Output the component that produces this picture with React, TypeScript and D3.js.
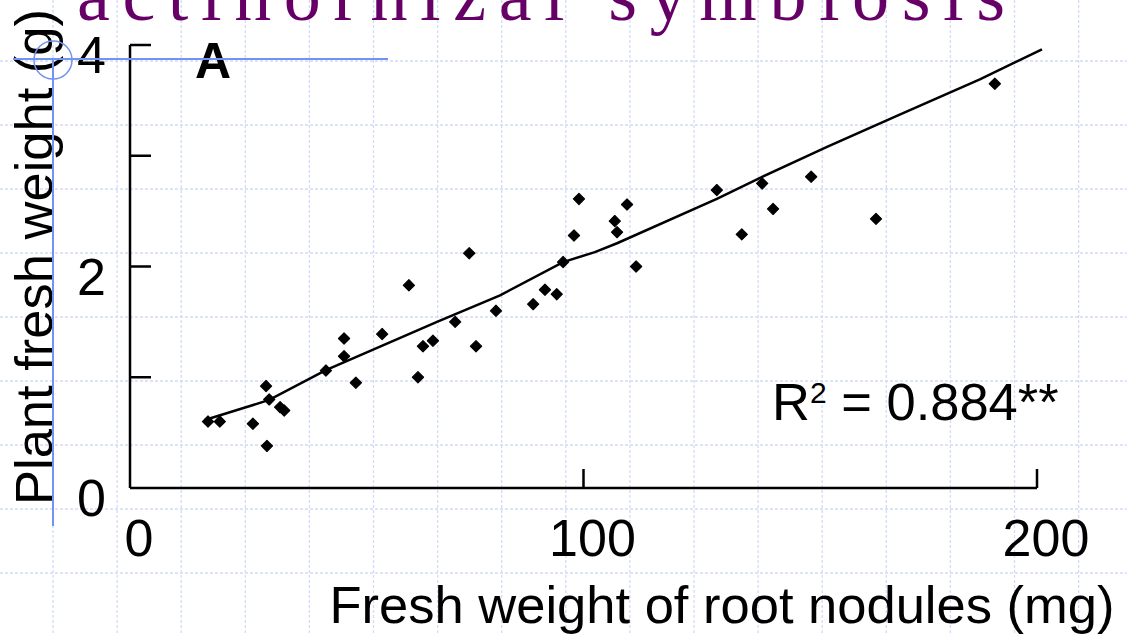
import React, { useEffect, useRef } from 'react';
import * as d3 from 'd3';

// nodule fresh weight (mg) vs plant fresh weight (g)
const noduleWeight = [17.2, 19.8, 27.1, 30.0, 30.2, 30.7, 33.1, 34.0, 43.2, 47.2, 47.2, 49.8, 55.6, 61.5, 63.5, 64.6, 66.8, 71.7, 74.8, 76.3, 80.7, 88.9, 91.5, 94.1, 95.5, 97.9, 99.0, 106.9, 107.4, 109.6, 111.6, 129.4, 134.9, 139.4, 141.8, 150.2, 164.5, 190.7];
const plantWeight = [0.60, 0.60, 0.58, 0.92, 0.38, 0.80, 0.73, 0.70, 1.06, 1.35, 1.19, 0.95, 1.39, 1.83, 1.00, 1.28, 1.33, 1.50, 2.12, 1.28, 1.60, 1.66, 1.79, 1.75, 2.04, 2.28, 2.61, 2.41, 2.31, 2.56, 2.00, 2.69, 2.29, 2.75, 2.52, 2.81, 2.43, 3.65];

// fitted line as drawn
const fitX = [16.5, 30.7, 43.2, 67.7, 81.6, 95.5, 102.5, 107.4, 129.4, 139.4, 153.7, 169.1, 187.4, 201.1];
const fitY = [0.614, 0.795, 1.065, 1.50, 1.74, 2.04, 2.13, 2.21, 2.61, 2.81, 3.08, 3.36, 3.69, 3.96];

const xTicks = [100, 200];
const xTickLabels = [0, 100, 200];
const yTicks = [1, 2, 3, 4];
const yTickLabels = [0, 2, 4];

const title = 'actinorhizal symbiosis';
const xTitle = 'Fresh weight of root nodules (mg)';
const yTitle = 'Plant fresh weight (g)';
const panel = 'A';
const r2Text = ' = 0.884**';

const W = 1127;
const H = 635;
const SANS = '"Liberation Sans", Arial, sans-serif';

export default function App() {
  const ref = useRef<SVGSVGElement>(null);

  useEffect(() => {
    const svg = d3.select(ref.current);
    svg.selectAll('*').remove();

    const x = d3.scaleLinear().domain([0, 200]).range([130, 1037]);
    const y = d3.scaleLinear().domain([0, 4]).range([488, 45]);

    // slide background grid
    const grid = svg.append('g')
      .attr('stroke', '#d2dcf8')
      .attr('stroke-width', 1.3)
      .attr('stroke-dasharray', '3,2');
    d3.range(53, W, 64.1).forEach(gx => {
      grid.append('line').attr('x1', gx).attr('x2', gx).attr('y1', 0).attr('y2', H);
    });
    d3.range(-3, H, 64).forEach(gy => {
      grid.append('line').attr('x1', 0).attr('x2', W).attr('y1', gy).attr('y2', gy);
    });

    // title, cut at the top
    svg.append('text')
      .attr('x', 77)
      .attr('y', 20)
      .attr('textLength', 928)
      .attr('lengthAdjust', 'spacing')
      .style('font-family', '"Liberation Serif", "Times New Roman", serif')
      .style('font-size', '74px')
      .style('fill', '#660066')
      .text(title);

    // axes
    const axes = svg.append('g').attr('stroke', '#000').attr('stroke-width', 2.5).attr('fill', 'none');
    axes.append('line').attr('x1', x(0)).attr('x2', x(0)).attr('y1', y(4)).attr('y2', y(0));
    axes.append('line').attr('x1', x(0)).attr('x2', x(200)).attr('y1', y(0)).attr('y2', y(0));
    yTicks.forEach(t => {
      axes.append('line').attr('x1', x(0)).attr('x2', x(0) + 21).attr('y1', y(t)).attr('y2', y(t));
    });
    xTicks.forEach(t => {
      axes.append('line').attr('x1', x(t)).attr('x2', x(t)).attr('y1', y(0)).attr('y2', y(0) - 19);
    });

    svg.selectAll('.xlab')
      .data(xTickLabels)
      .enter().append('text')
      .attr('x', d => x(d) + 9)
      .attr('y', 556)
      .attr('text-anchor', 'middle')
      .style('font-family', SANS)
      .style('font-size', '52px')
      .text(d => d);

    svg.selectAll('.ylab')
      .data(yTickLabels)
      .enter().append('text')
      .attr('x', 106)
      .attr('y', d => y(d) + 28)
      .attr('text-anchor', 'end')
      .style('font-family', SANS)
      .style('font-size', '52px')
      .text(d => d);

    // fitted line
    const line = d3.line<number>()
      .x(i => x(fitX[i]))
      .y(i => y(fitY[i]));
    svg.append('path')
      .attr('d', line(d3.range(fitX.length)))
      .attr('fill', 'none')
      .attr('stroke', '#000')
      .attr('stroke-width', 2.5);

    // points
    const sym = d3.symbol().type(d3.symbolSquare).size(62);
    svg.selectAll('.pt')
      .data(d3.range(noduleWeight.length))
      .enter().append('path')
      .attr('d', sym)
      .attr('transform', i => 'translate(' + x(noduleWeight[i]) + ',' + y(plantWeight[i]) + ') rotate(45)')
      .attr('fill', '#000')
      .attr('stroke', '#000')
      .attr('stroke-width', 1.2)
      .attr('stroke-linejoin', 'round');

    // axis titles
    svg.append('text')
      .attr('x', 722)
      .attr('y', 623)
      .attr('text-anchor', 'middle')
      .style('font-family', SANS)
      .style('font-size', '52.5px')
      .text(xTitle);

    svg.append('text')
      .attr('transform', 'translate(52,257) rotate(-90)')
      .attr('text-anchor', 'middle')
      .style('font-family', SANS)
      .style('font-size', '52.5px')
      .text(yTitle);

    svg.append('text')
      .attr('x', 195)
      .attr('y', 78)
      .style('font-family', SANS)
      .style('font-size', '50px')
      .style('font-weight', 'bold')
      .text(panel);

    const r2 = svg.append('text')
      .attr('x', 772)
      .attr('y', 420)
      .style('font-family', SANS)
      .style('font-size', '52.5px');
    r2.append('tspan').text('R');
    r2.append('tspan').attr('dy', -17).style('font-size', '30px').text('2');
    r2.append('tspan').attr('dy', 17).text(r2Text);

    // selection marker left on the slide
    const sel = svg.append('g').attr('stroke', '#7393f2').attr('fill', 'none');
    sel.append('line').attr('x1', 13).attr('x2', 388).attr('y1', 59).attr('y2', 59).attr('stroke-width', 2);
    sel.append('line').attr('x1', 53).attr('x2', 53).attr('y1', 59).attr('y2', 526).attr('stroke-width', 2);
    sel.append('circle').attr('cx', 53).attr('cy', 60).attr('r', 19).attr('stroke-width', 1.5);
  }, []);

  return (
    <svg ref={ref} width={W} height={H}
      style={{ position: 'absolute', left: 0, top: 0, background: '#fff' }} />
  );
}
